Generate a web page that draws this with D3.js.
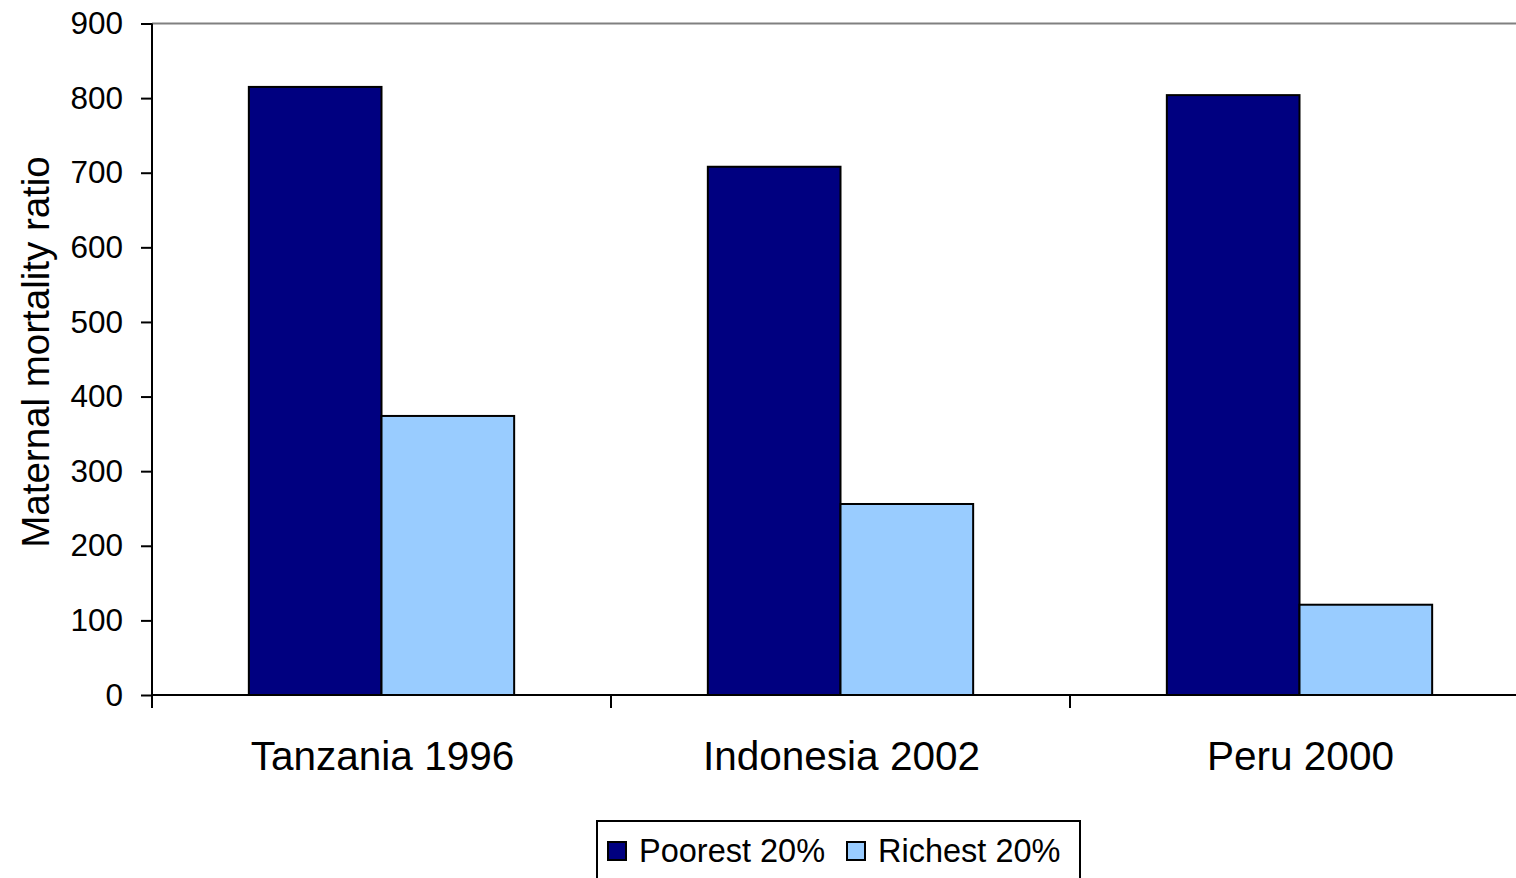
<!DOCTYPE html>
<html>
<head>
<meta charset="utf-8">
<script src="https://cdn.jsdelivr.net/npm/d3@7"></script>
<style>
  html, body { margin: 0; padding: 0; background: #fff; }
  svg { display: block; font-family: "Liberation Sans", Arial, sans-serif; }
</style>
</head>
<body>
<svg id="chart" width="1516" height="878"></svg>
<script>
const categories = ["Tanzania 1996", "Indonesia 2002", "Peru 2000"];
const seriesNames = ["Poorest 20%", "Richest 20%"];
const poorest = [815, 708, 804];
const richest = [374, 256, 121];
const yTicks = [0, 100, 200, 300, 400, 500, 600, 700, 800, 900];
const colors = ["#000080", "#99CCFF"];

(function () {
const svg = d3.select("#chart");
const plotLeft = 152, plotRight = 1529, plotTop = 23.5, plotBottom = 695;

const x0 = d3.scaleBand().domain(categories).range([plotLeft, plotRight]).padding(0);
const bw = x0.bandwidth();
const gap = bw * 0.73 / 1.73;
const x1 = d3.scaleBand().domain(seriesNames).range([gap / 2, bw - gap / 2]).padding(0);
const y = d3.scaleLinear().domain([0, 900]).range([plotBottom, plotTop]);

const values = [poorest, richest];

// top border (grey)
svg.append("line")
  .attr("x1", plotLeft).attr("x2", 1516)
  .attr("y1", y(900)).attr("y2", y(900))
  .attr("stroke", "#808080").attr("stroke-width", 2);

// bars
categories.forEach((c, i) => {
  seriesNames.forEach((s, j) => {
    svg.append("rect")
      .attr("x", x0(c) + x1(s))
      .attr("y", y(values[j][i]))
      .attr("width", x1.bandwidth())
      .attr("height", y(0) - y(values[j][i]))
      .attr("fill", colors[j])
      .attr("stroke", "#000")
      .attr("stroke-width", 2);
  });
});

// y axis
const yAxis = svg.append("g")
  .attr("transform", `translate(${plotLeft},0)`)
  .call(d3.axisLeft(y).tickValues(yTicks).tickSize(11).tickPadding(18).tickFormat(d3.format("d")));
yAxis.select(".domain").attr("stroke", "#000").attr("stroke-width", 2).attr("d", `M0,${y(900)}V${y(0)}`);
yAxis.selectAll(".tick line").attr("stroke", "#000").attr("stroke-width", 2);
yAxis.selectAll(".tick text").attr("font-size", 31.5).attr("fill", "#000")
  .attr("font-family", "Liberation Sans, Arial, sans-serif");

// x axis
const xAxisG = svg.append("g").attr("transform", `translate(0,${plotBottom})`);
xAxisG.append("line").attr("x1", plotLeft).attr("x2", 1516).attr("y1", 0).attr("y2", 0)
  .attr("stroke", "#000").attr("stroke-width", 2);
const boundaries = categories.map(c => x0(c));
xAxisG.selectAll("line.cat").data(boundaries).enter().append("line")
  .attr("class", "cat")
  .attr("x1", d => d).attr("x2", d => d).attr("y1", 0).attr("y2", 13)
  .attr("stroke", "#000").attr("stroke-width", 2);
xAxisG.selectAll("text.cat").data(categories).enter().append("text")
  .attr("class", "cat")
  .attr("x", d => x0(d) + bw / 2 + 1)
  .attr("y", 75)
  .attr("text-anchor", "middle")
  .attr("font-size", 40.5)
  .attr("fill", "#000")
  .text(d => d);

// y title
svg.append("text")
  .attr("transform", `translate(49,352) rotate(-90)`)
  .attr("text-anchor", "middle")
  .attr("font-size", 38.5)
  .attr("fill", "#000")
  .text("Maternal mortality ratio");

// legend
const lg = svg.append("g");
lg.append("rect").attr("x", 597).attr("y", 821).attr("width", 483).attr("height", 80)
  .attr("fill", "#fff").attr("stroke", "#000").attr("stroke-width", 2);
const legendX = [608, 847];
seriesNames.forEach((s, j) => {
  lg.append("rect").attr("x", legendX[j]).attr("y", 842).attr("width", 18).attr("height", 18)
    .attr("fill", colors[j]).attr("stroke", "#000").attr("stroke-width", 2);
  lg.append("text").attr("x", legendX[j] + 31).attr("y", 862)
    .attr("font-size", 32.5).attr("fill", "#000").text(s);
});
})();
</script>
</body>
</html>
